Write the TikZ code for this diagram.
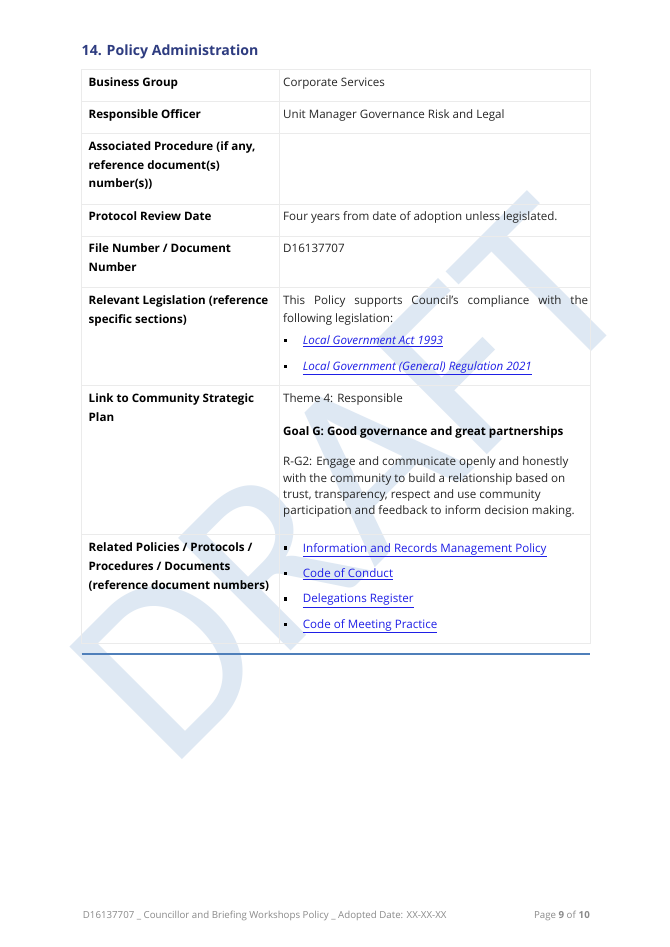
\documentclass[tikz,border=0pt]{standalone}
\usepackage{fontspec}
\setmainfont{Open Sans}
\newfontfamily\wmfont{Carlito}
\definecolor{wmblue}{HTML}{DEE8F3}
\definecolor{gridgray}{HTML}{EBEBEB}
\definecolor{headblue}{HTML}{2E3C80}
\definecolor{linkblue}{HTML}{1F1FE6}
\definecolor{rulerblue}{HTML}{4F7FBA}
\definecolor{bodytext}{HTML}{262626}
\definecolor{footgray}{HTML}{8A8A8A}
\newcommand{\bodyfont}{\fontsize{11.6}{13}\selectfont}
\tikzset{
  wm/.style={inner sep=0pt, rotate=45, text=wmblue, font=\wmfont\fontsize{248}{248}\selectfont},
  lbl/.style={anchor=base west, inner sep=0pt, font=\bodyfont\bfseries, text=black},
  txt/.style={anchor=base west, inner sep=0pt, font=\bodyfont, text=bodytext},
  lnk/.style={anchor=base west, inner sep=0pt, font=\bodyfont, text=linkblue},
  ilnk/.style={lnk, font=\bodyfont\itshape},
  bul/.style={rectangle, fill=black, minimum size=3.4pt, inner sep=0pt},
  grid/.style={draw=gridgray, line width=0.8pt},
  foot/.style={anchor=base west, inner sep=0pt, font=\fontsize{9.7}{11}\selectfont, text=footgray}
}
\begin{document}
\begin{tikzpicture}[x=1pt,y=-1pt]
\useasboundingbox (0,0) rectangle (669,947);
\fill[white] (0,0) rectangle (669,947);
% watermark
\node[wm] (wm) at (350,480) {DRAFT};
% heading
\node[anchor=base west, inner sep=0pt, text=headblue, font=\fontsize{14.1}{17}\selectfont\bfseries] (title) at (81.5,56) {14. Policy Administration};
% grid
\coordinate (tl) at (81.5,69.5);
\coordinate (br) at (590,643.5);
\coordinate (ct) at (279,69.5);
\coordinate (cb) at (279,643.5);
\draw[grid] (tl) rectangle (br);
\draw[grid] (ct) -- (cb);
\foreach \yy in {101.5,133.5,204,236,287,385.7,534}{
  \draw[grid] (81.5,\yy) -- (590,\yy);
}
% left column labels
\node[lbl] (l1) at (88.5,86.7) {Business Group};
\node[lbl] (l2) at (88.5,118.3) {Responsible Officer};
\node[lbl] (l3a) at (88.5,150.7) {Associated Procedure (if any,};
\node[lbl] (l3b) at (88.5,169.3) {reference document(s)};
\node[lbl] (l3c) at (88.5,187.8) {number(s))};
\node[lbl] (l4) at (88.5,220.7) {Protocol Review Date};
\node[lbl] (l5a) at (88.5,252.7) {File Number / Document};
\node[lbl] (l5b) at (88.5,271.3) {Number};
\node[lbl] (l6a) at (88.5,304.3) {Relevant Legislation (reference};
\node[lbl] (l6b) at (88.5,323.3) {specific sections)};
\node[lbl] (l7a) at (88.5,402.7) {Link to Community Strategic};
\node[lbl] (l7b) at (88.5,421.5) {Plan};
\node[lbl] (l8a) at (88.5,551.5) {Related Policies / Protocols /};
\node[lbl] (l8b) at (88.5,570.4) {Procedures / Documents};
\node[lbl] (l8c) at (88.5,589.5) {(reference document numbers)};
% right column
\node[txt] (r1) at (283,86.7) {Corporate Services};
\node[txt] (r2) at (283,118.3) {Unit Manager Governance Risk and Legal};
\node[txt] (r4) at (283,220.7) {Four years from date of adoption unless legislated.};
\node[txt] (r5) at (283,252.7) {D16137707};
\node[txt] (r6a) at (283,304.5) {\makebox[305pt][s]{This Policy supports Council's compliance with the}};
\node[txt] (r6b) at (283,322.5) {following legislation:};
\node[bul] (b1) at (285.3,340.6) {};
\node[ilnk] (r6c) at (302.7,344.6) {\underline{Local Government Act 1993}};
\node[bul] (b2) at (285.3,366.2) {};
\node[ilnk] (r6d) at (302.7,370.2) {\underline{Local Government (General) Regulation 2021}};
\node[txt] (r7a) at (283,402.7) {Theme 4: Responsible};
\node[lbl] (r7b) at (283,435.6) {Goal G: Good governance and great partnerships};
\node[txt] (r7c) at (283,465.5) {R-G2: Engage and communicate openly and honestly};
\node[txt] (r7d) at (283,482) {with the community to build a relationship based on};
\node[txt] (r7e) at (283,498.4) {trust, transparency, respect and use community};
\node[txt] (r7f) at (283,514.9) {participation and feedback to inform decision making.};
\node[bul] (b3) at (285.3,548) {};
\node[lnk] (r8a) at (302.7,552) {\underline{Information and Records Management Policy}};
\node[bul] (b4) at (285.3,573.3) {};
\node[lnk] (r8b) at (302.7,577.3) {\underline{Code of Conduct}};
\node[bul] (b5) at (285.3,598.9) {};
\node[lnk] (r8c) at (302.7,602.9) {\underline{Delegations Register}};
\node[bul] (b6) at (285.3,624.5) {};
\node[lnk] (r8d) at (302.7,628.5) {\underline{Code of Meeting Practice}};
% blue rule
\coordinate (rl) at (81.5,654);
\coordinate (rr) at (590,654);
\draw[rulerblue, line width=1.3pt] (rl) -- (rr);
% footer
\node[foot] (f1) at (82.7,918.3) {D16137707 \_ Councillor and Briefing Workshops Policy \_ Adopted Date: XX-XX-XX};
\node[foot, anchor=base east] (f2) at (590,918.3) {Page \textbf{9} of \textbf{10}};
\end{tikzpicture}
\end{document}
